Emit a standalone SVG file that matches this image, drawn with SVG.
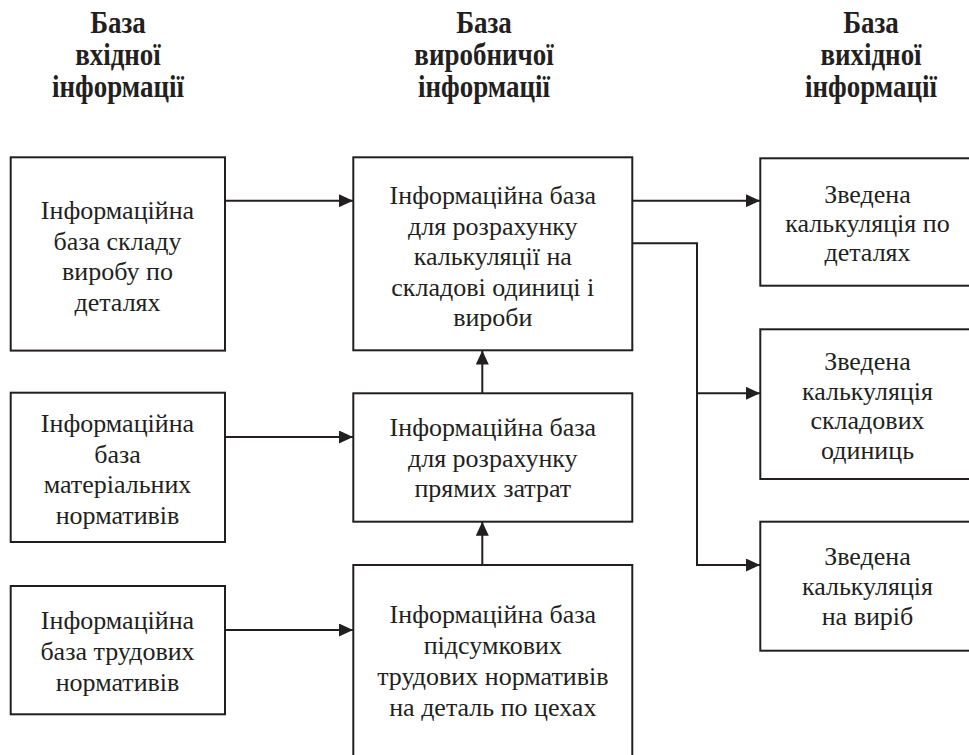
<svg xmlns="http://www.w3.org/2000/svg" width="969" height="755" viewBox="0 0 969 755">
<defs>
<style>
.box{fill:#fff;stroke:#231f20;stroke-width:2}
.c{fill:none;stroke:#231f20;stroke-width:2}
</style>
<marker id="ah" markerWidth="14" markerHeight="13" refX="14" refY="6.5" orient="auto" markerUnits="userSpaceOnUse">
<path d="M0,0 L14,6.5 L0,13 Z" fill="#231f20"/>
</marker>
</defs>
<rect width="969" height="755" fill="#fff"/>
<g id="headers" fill="#231f20" text-anchor="middle" font-family="Liberation Serif" font-weight="bold" font-size="31">
<g transform="translate(118,0) scale(0.87,1)">
<text x="0" y="33">База</text>
<text x="0" y="65">вхідної</text>
<text x="0" y="97">інформації</text>
</g>
<g transform="translate(484,0) scale(0.87,1)">
<text x="0" y="33">База</text>
<text x="0" y="65">виробничої</text>
<text x="0" y="97">інформації</text>
</g>
<g transform="translate(871,0) scale(0.87,1)">
<text x="0" y="33">База</text>
<text x="0" y="65">вихідної</text>
<text x="0" y="97">інформації</text>
</g>
</g>
<g id="connectors">
<line class="c" x1="225" y1="200.7" x2="353" y2="200.7" marker-end="url(#ah)"/>
<line class="c" x1="225" y1="437" x2="353" y2="437" marker-end="url(#ah)"/>
<line class="c" x1="225" y1="630" x2="353" y2="630" marker-end="url(#ah)"/>
<line class="c" x1="632" y1="200.7" x2="760" y2="200.7" marker-end="url(#ah)"/>
<polyline class="c" points="632,243.3 697,243.3 697,565 760,565" marker-end="url(#ah)"/>
<line class="c" x1="697" y1="393.3" x2="760" y2="393.3" marker-end="url(#ah)"/>
<line class="c" x1="482.3" y1="393.3" x2="482.3" y2="350.5" marker-end="url(#ah)"/>
<line class="c" x1="482.3" y1="565" x2="482.3" y2="521.7" marker-end="url(#ah)"/>
</g>
<g id="in1" fill="#231f20" text-anchor="middle" font-family="Liberation Serif" font-size="26">
<rect class="box" x="10.7" y="157.3" width="214.3" height="193.3"/>
<text x="117.5" y="219">Інформаційна</text>
<text x="117.5" y="249.5">база складу</text>
<text x="117.5" y="280">виробу по</text>
<text x="117.5" y="310.5">деталях</text>
</g>
<g id="in2" fill="#231f20" text-anchor="middle" font-family="Liberation Serif" font-size="26">
<rect class="box" x="10.7" y="392.7" width="214.3" height="149.3"/>
<text x="117.5" y="432">Інформаційна</text>
<text x="117.5" y="462.5">база</text>
<text x="117.5" y="493">матеріальних</text>
<text x="117.5" y="523.5">нормативів</text>
</g>
<g id="in3" fill="#231f20" text-anchor="middle" font-family="Liberation Serif" font-size="26">
<rect class="box" x="10.7" y="586" width="214.3" height="128.3"/>
<text x="117.5" y="629">Інформаційна</text>
<text x="117.5" y="660">база трудових</text>
<text x="117.5" y="691">нормативів</text>
</g>
<g id="mid1" fill="#231f20" text-anchor="middle" font-family="Liberation Serif" font-size="26">
<rect class="box" x="353.3" y="157.3" width="279" height="193"/>
<text x="492.8" y="204">Інформаційна база</text>
<text x="492.8" y="234.5">для розрахунку</text>
<text x="492.8" y="265">калькуляції на</text>
<text x="492.8" y="295.5">складові одиниці і</text>
<text x="492.8" y="326">вироби</text>
</g>
<g id="mid2" fill="#231f20" text-anchor="middle" font-family="Liberation Serif" font-size="26">
<rect class="box" x="353.3" y="393.3" width="279" height="128.4"/>
<text x="492.8" y="436">Інформаційна база</text>
<text x="492.8" y="466.5">для розрахунку</text>
<text x="492.8" y="497">прямих затрат</text>
</g>
<g id="mid3" fill="#231f20" text-anchor="middle" font-family="Liberation Serif" font-size="26">
<rect class="box" x="353.3" y="565" width="279" height="200"/>
<text x="492.8" y="623">Інформаційна база</text>
<text x="492.8" y="654">підсумкових</text>
<text x="492.8" y="685">трудових нормативів</text>
<text x="492.8" y="716">на деталь по цехах</text>
</g>
<g id="out1" fill="#231f20" text-anchor="middle" font-family="Liberation Serif" font-size="26">
<rect class="box" x="760.3" y="158.3" width="215" height="127.4"/>
<text x="867.5" y="203.3">Зведена</text>
<text x="867.5" y="232">калькуляція по</text>
<text x="867.5" y="260.7">деталях</text>
</g>
<g id="out2" fill="#231f20" text-anchor="middle" font-family="Liberation Serif" font-size="26">
<rect class="box" x="760.3" y="329.3" width="215" height="149.7"/>
<text x="867.5" y="370">Зведена</text>
<text x="867.5" y="399.5">калькуляція</text>
<text x="867.5" y="429">складових</text>
<text x="867.5" y="458.5">одиниць</text>
</g>
<g id="out3" fill="#231f20" text-anchor="middle" font-family="Liberation Serif" font-size="26">
<rect class="box" x="760.3" y="521.7" width="215" height="129"/>
<text x="867.5" y="565">Зведена</text>
<text x="867.5" y="595">калькуляція</text>
<text x="867.5" y="625">на виріб</text>
</g>
</svg>
